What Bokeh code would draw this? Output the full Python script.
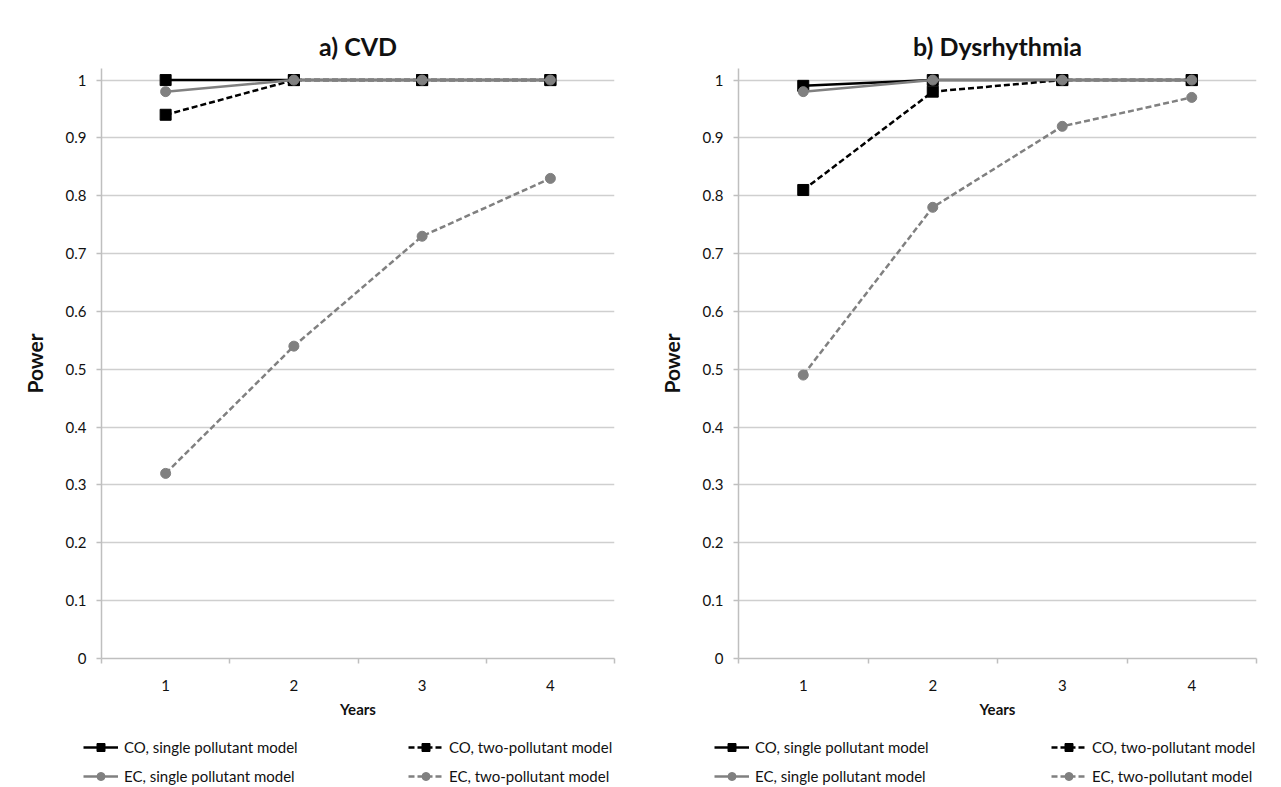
from bokeh.plotting import figure
from bokeh.models import Range1d, FixedTicker, Legend, LegendItem
from bokeh.layouts import row, column
from bokeh.embed import file_html
from bokeh.resources import INLINE

years = [1, 2, 3, 4]
year_labels = ["1", "2", "3", "4"]
y_ticks = [0, 0.1, 0.2, 0.3, 0.4, 0.5, 0.6, 0.7, 0.8, 0.9, 1]
y_tick_labels = ["0", "0.1", "0.2", "0.3", "0.4", "0.5", "0.6", "0.7", "0.8", "0.9", "1"]

series_names = ["CO, single pollutant model", "CO, two-pollutant model",
                "EC, single pollutant model", "EC, two-pollutant model"]

cvd_co_single = [1.00, 1.00, 1.00, 1.00]
cvd_co_two = [0.94, 1.00, 1.00, 1.00]
cvd_ec_single = [0.98, 1.00, 1.00, 1.00]
cvd_ec_two = [0.32, 0.54, 0.73, 0.83]

dys_co_single = [0.99, 1.00, 1.00, 1.00]
dys_co_two = [0.81, 0.98, 1.00, 1.00]
dys_ec_single = [0.98, 1.00, 1.00, 1.00]
dys_ec_two = [0.49, 0.78, 0.92, 0.97]

FONT = "Lato"
BLACK = "#000000"
GRAY = "#808080"
TXT = "#111111"
styles = [
    (BLACK, "solid", "square"),
    (BLACK, "6 3", "square"),
    (GRAY, "solid", "circle"),
    (GRAY, "6 3", "circle"),
]

MAIN_H = 722
LEG_H = 64


def make_panel(title, series, width, mb_left, mb_right):
    p = figure(width=width, height=MAIN_H,
               x_range=Range1d(0.5, 4.5), y_range=Range1d(0, 1.02),
               output_backend="svg", toolbar_location=None,
               min_border_left=mb_left, min_border_right=mb_right,
               min_border_top=68, min_border_bottom=MAIN_H - 658)
    p.title.text = title
    p.title.align = "center"
    p.title.text_font = FONT
    p.title.text_font_size = "25px"
    p.title.text_font_style = "bold"
    p.title.text_color = TXT
    p.title.standoff = 15
    p.outline_line_color = None
    p.background_fill_color = "white"

    p.xgrid.visible = False
    p.ygrid.ticker = FixedTicker(ticks=y_ticks)
    p.ygrid.grid_line_color = "#cfcfcf"
    p.ygrid.grid_line_width = 1.5

    xa = p.xaxis[0]
    xa.ticker = FixedTicker(ticks=years, minor_ticks=[0.5, 1.5, 2.5, 3.5, 4.5])
    xa.major_label_overrides = {y: l for y, l in zip(years, year_labels)}
    xa.major_tick_out = 0
    xa.major_tick_in = 0
    xa.minor_tick_out = 5
    xa.minor_tick_in = 0
    xa.minor_tick_line_color = "#bfbfbf"
    xa.minor_tick_line_width = 1.5
    xa.axis_line_color = "#bfbfbf"
    xa.axis_line_width = 1.5
    xa.major_label_text_font = FONT
    xa.major_label_text_font_size = "15px"
    xa.major_label_text_color = TXT
    xa.major_label_standoff = 16
    xa.axis_label = "Years"
    xa.axis_label_text_font = FONT
    xa.axis_label_text_font_size = "15px"
    xa.axis_label_text_font_style = "bold"
    xa.axis_label_text_color = TXT
    xa.axis_label_standoff = 6

    ya = p.yaxis[0]
    ya.ticker = FixedTicker(ticks=y_ticks)
    ya.major_label_overrides = {t: l for t, l in zip(y_ticks, y_tick_labels)}
    ya.major_tick_out = 5
    ya.major_tick_in = 0
    ya.minor_tick_out = 0
    ya.minor_tick_in = 0
    ya.major_tick_line_color = "#bfbfbf"
    ya.major_tick_line_width = 1.5
    ya.axis_line_color = "#bfbfbf"
    ya.axis_line_width = 1.5
    ya.major_label_text_font = FONT
    ya.major_label_text_font_size = "15px"
    ya.major_label_text_color = TXT
    ya.major_label_standoff = 10
    ya.axis_label = "Power"
    ya.axis_label_text_font = FONT
    ya.axis_label_text_font_size = "21px"
    ya.axis_label_text_font_style = "bold"
    ya.axis_label_text_color = TXT
    ya.axis_label_standoff = 16

    for vals, (color, dash, marker) in zip(series, styles):
        p.line(years, vals, line_color=color, line_width=2.5, line_dash=dash)
        p.scatter(years, vals, marker=marker, size=10 if marker == "circle" else 11,
                  fill_color=color, line_color=color, line_width=1)
    return p


def make_legend_fig(series, width, label_width, leg_x):
    # legend-only strip: the series are drawn outside its visible range,
    # only the legend entries show
    lf = figure(width=width, height=LEG_H, x_range=Range1d(100, 101), y_range=Range1d(100, 101),
                x_axis_type=None, y_axis_type=None, output_backend="svg",
                toolbar_location=None, min_border=0, outline_line_color=None)
    lf.xgrid.visible = False
    lf.ygrid.visible = False
    items = []
    for vals, name, (color, dash, marker) in zip(series, series_names, styles):
        ln = lf.line(years, vals, line_color=color, line_width=2.5, line_dash=dash)
        sc = lf.scatter(years, vals, marker=marker, size=9 if marker == "circle" else 10,
                        fill_color=color, line_color=color, line_width=1)
        items.append(LegendItem(label=name, renderers=[ln, sc]))
    for pair, ly in ((items[0:2], 29), (items[2:4], 0)):
        leg = Legend(items=pair, orientation="horizontal", location=(leg_x, ly),
                     label_text_font=FONT, label_text_font_size="15px",
                     label_text_color=TXT,
                     glyph_width=35, glyph_height=20, label_standoff=6,
                     label_width=label_width, spacing=12, padding=2, margin=0,
                     border_line_color=None, background_fill_alpha=0)
        lf.add_layout(leg)
    return lf


cvd = [cvd_co_single, cvd_co_two, cvd_ec_single, cvd_ec_two]
dys = [dys_co_single, dys_co_two, dys_ec_single, dys_ec_two]

p1 = make_panel("a) CVD", cvd, 640, 101, 26)
p2 = make_panel("b) Dysrhythmia", dys, 640, 98, 24)
l1 = make_legend_fig(cvd, 640, 272, 83)
l2 = make_legend_fig(dys, 640, 284, 74)

layout = column(row(p1, p2), row(l1, l2))

html = file_html(layout, INLINE)
open("out.html", "w").write(html)
